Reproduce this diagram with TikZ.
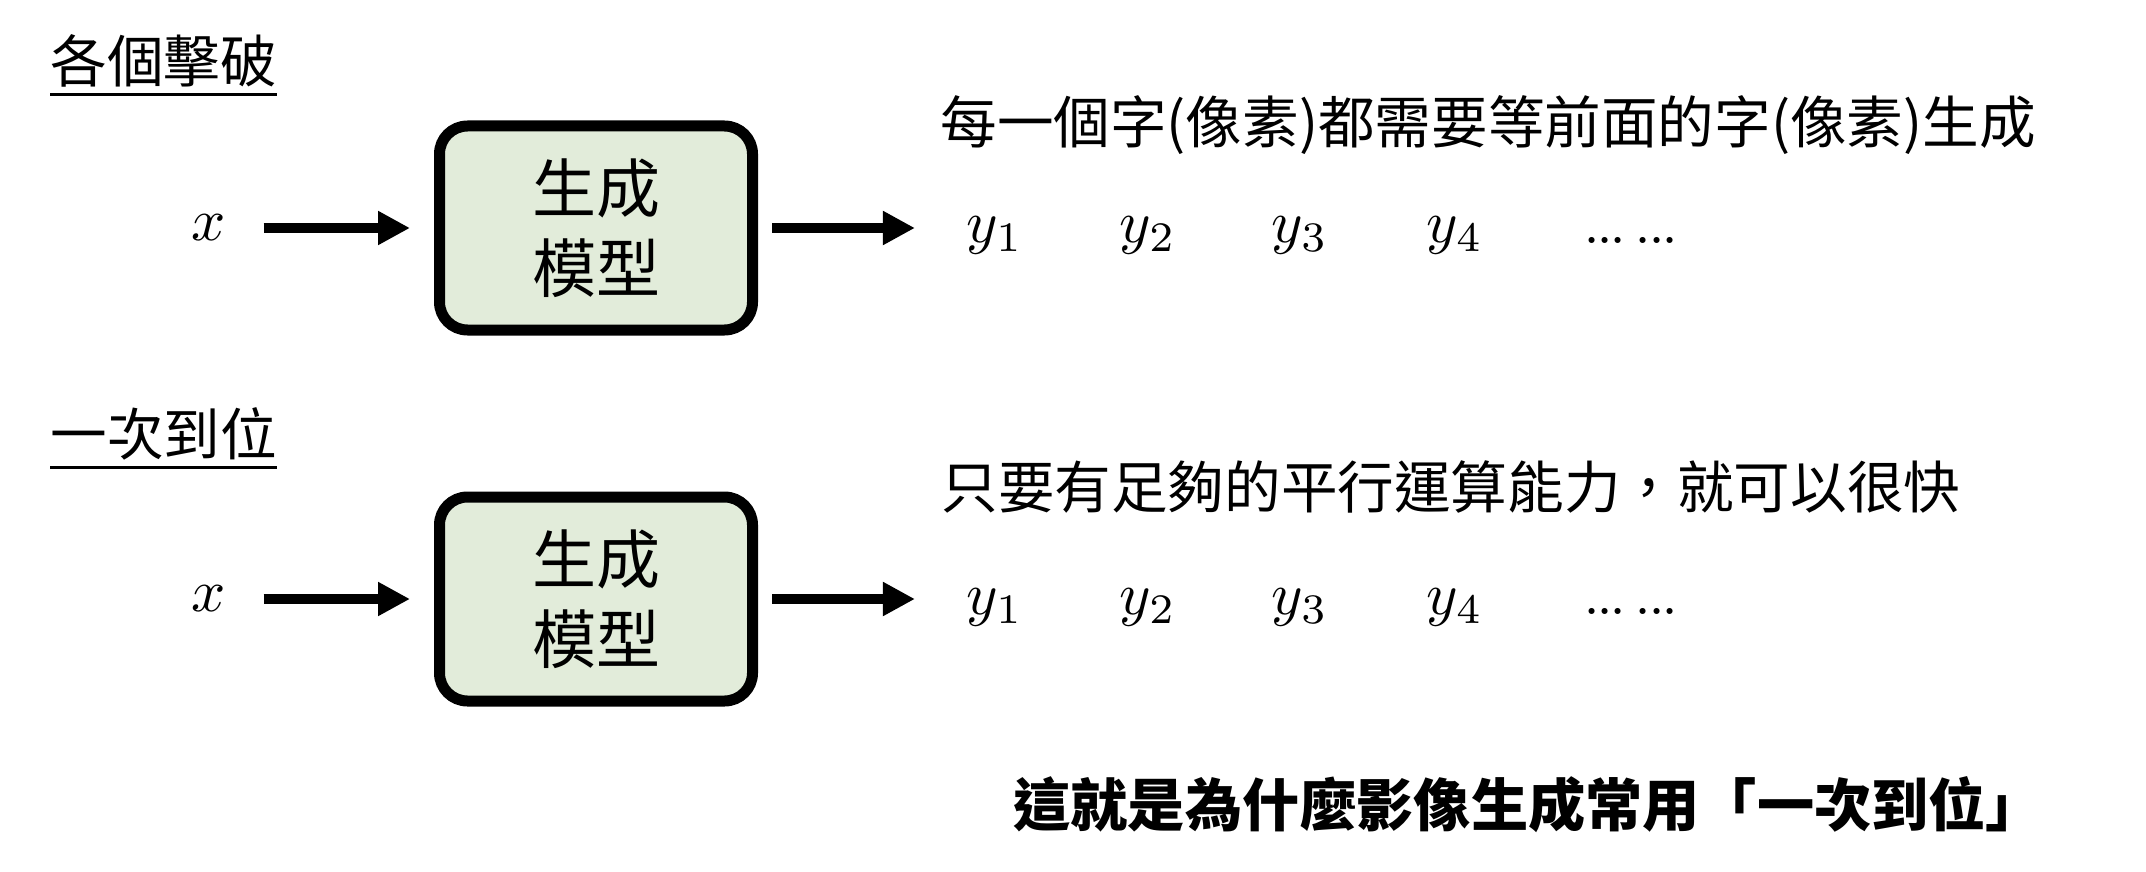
\documentclass[tikz,border=0pt]{standalone}
\usepackage{fontspec}
\usepackage{amsmath}
\usetikzlibrary{arrows.meta}
\newfontfamily\cjk{Noto Sans CJK TC}
\definecolor{boxgreen}{RGB}{226,236,218}
\newcommand{\bigvar}[1]{\scalebox{3}{$#1$}}

\begin{document}
\begin{tikzpicture}[x=0.5pt,y=-0.5pt,
  heading/.style={anchor=west,inner sep=0pt,font=\cjk\fontsize{28.3}{34}\selectfont},
  model/.style={draw,line width=5.5pt,rounded corners=14pt,fill=boxgreen,
    minimum width=156.5pt,minimum height=102pt,align=center,
    font=\cjk\fontsize{32}{40}\selectfont},
  var/.style={inner sep=0pt},
  dots/.style={inner sep=0pt,font=\bfseries\fontsize{21}{28}\selectfont},
  fat/.style={line width=5pt,-{Triangle[length=16pt,width=16pt]}}]
\useasboundingbox (0,0) rectangle (2146,872);
% one token after another
\node[heading] (h1) at (50,61) {各個擊破};
\draw[line width=1.5pt] ([yshift=-3.5pt]h1.south west) -- ([yshift=-3.5pt]h1.south east);
\node[heading] (n1) at (940,125) {每一個字(像素)都需要等前面的字(像素)生成};
\node[var] (x1) at (209,228) {\bigvar{x}};
\node[model] (m1) at (596,228) {生成\\模型};
\node[var] (a1) at (995,235) {\bigvar{y_1}};
\node[var] (a2) at (1148,235) {\bigvar{y_2}};
\node[var] (a3) at (1300,235) {\bigvar{y_3}};
\node[var] (a4) at (1455,235) {\bigvar{y_4}};
\node[dots] (d1) at (1631,240) {...\hspace{6pt}...};
\draw[fat,shorten <=18.5pt,shorten >=12pt] (x1) -- (m1);
\draw[fat,shorten <=7pt,shorten >=25.75pt] (m1) -- (m1 -| a1.west);
% all at once
\node[heading] (h2) at (50,433.5) {一次到位};
\draw[line width=1.5pt] ([yshift=-3.5pt]h2.south west) -- ([yshift=-3.5pt]h2.south east);
\node[heading] (n2) at (941,486.5) {只要有足夠的平行運算能力，就可以很快};
\node[var] (x2) at (209,599) {\bigvar{x}};
\node[model] (m2) at (596,599) {生成\\模型};
\node[var] (b1) at (995,607) {\bigvar{y_1}};
\node[var] (b2) at (1148,607) {\bigvar{y_2}};
\node[var] (b3) at (1300,607) {\bigvar{y_3}};
\node[var] (b4) at (1455,607) {\bigvar{y_4}};
\node[dots] (d2) at (1631,611) {...\hspace{6pt}...};
\draw[fat,shorten <=18.5pt,shorten >=12pt] (x2) -- (m2);
\draw[fat,shorten <=7pt,shorten >=25.75pt] (m2) -- (m2 -| b1.west);
\node[heading,font=\cjk\bfseries\fontsize{28.6}{34}\selectfont] (why) at (1013,805)
  {這就是為什麼影像生成常用「一次到位」};
\end{tikzpicture}
\end{document}
